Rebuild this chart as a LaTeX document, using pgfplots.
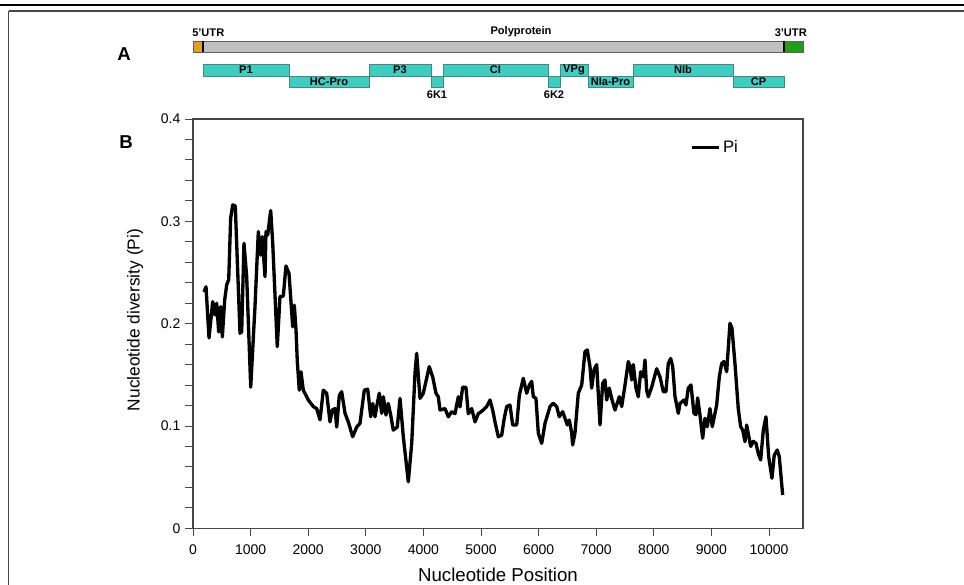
\documentclass[border=0pt]{standalone}
\usepackage{pgfplots}
\pgfplotsset{compat=1.18}
\usepackage{fontspec}
\setmainfont{Liberation Sans}

\definecolor{turq}{RGB}{61,205,193}
\definecolor{turqd}{RGB}{70,135,128}
\definecolor{barg}{RGB}{192,192,192}
\definecolor{bard}{RGB}{95,95,95}
\definecolor{utr5}{RGB}{226,160,30}
\definecolor{utr3}{RGB}{30,160,20}
\definecolor{axisgray}{RGB}{70,70,70}

\newcommand{\maplab}{\bfseries\fontsize{8.3}{9}\selectfont}
\newcommand{\panlab}{\bfseries\fontsize{14}{16}\selectfont}

\pgfplotstableread{
pos pi
191 0.231
226 0.236
278 0.186
342 0.2215
382 0.2085
411 0.220
446 0.192
481 0.2166
509 0.187
550 0.223
585 0.238
620 0.243
654 0.303
689 0.316
734 0.315
816 0.1906
845 0.192
885 0.2786
932 0.246
1002 0.138
1076 0.2166
1134 0.290
1175 0.267
1203 0.285
1250 0.246
1267 0.290
1297 0.2867
1349 0.3105
1384 0.2786
1463 0.1775
1510 0.2264
1568 0.227
1614 0.2564
1667 0.249
1731 0.197
1759 0.218
1788 0.194
1811 0.163
1845 0.135
1875 0.153
1915 0.135
2002 0.1254
2088 0.119
2147 0.117
2205 0.106
2262 0.135
2321 0.132
2378 0.104
2418 0.1156
2465 0.117
2495 0.099
2540 0.130
2581 0.1335
2639 0.1124
2696 0.104
2772 0.0895
2842 0.099
2899 0.1026
2974 0.135
3033 0.136
3085 0.109
3120 0.122
3160 0.109
3199 0.122
3234 0.132
3276 0.1124
3304 0.1286
3350 0.1107
3390 0.122
3432 0.1107
3477 0.096
3547 0.099
3594 0.127
3651 0.0895
3738 0.0455
3797 0.083
3854 0.1515
3883 0.171
3941 0.127
3998 0.132
4102 0.158
4161 0.148
4218 0.132
4259 0.1286
4288 0.1156
4375 0.117
4432 0.109
4491 0.114
4548 0.112
4606 0.1286
4635 0.1186
4682 0.138
4739 0.1377
4779 0.112
4838 0.117
4896 0.104
4953 0.112
5040 0.1156
5099 0.119
5156 0.1254
5203 0.1156
5243 0.104
5300 0.0895
5359 0.091
5399 0.106
5446 0.119
5503 0.1205
5550 0.101
5620 0.101
5665 0.130
5734 0.1466
5793 0.132
5839 0.140
5880 0.1436
5908 0.1286
5954 0.127
5995 0.093
6053 0.083
6111 0.1026
6198 0.119
6255 0.1222
6314 0.119
6359 0.109
6418 0.114
6458 0.1075
6498 0.101
6533 0.1058
6574 0.093
6592 0.0815
6631 0.093
6689 0.132
6748 0.140
6805 0.1726
6845 0.1743
6892 0.158
6921 0.137
6961 0.1547
7008 0.160
7066 0.101
7112 0.1417
7152 0.145
7182 0.1254
7227 0.137
7268 0.127
7326 0.1156
7401 0.1286
7442 0.119
7500 0.140
7557 0.163
7586 0.158
7616 0.145
7644 0.160
7690 0.137
7730 0.1286
7772 0.153
7817 0.148
7847 0.1645
7876 0.135
7904 0.1286
7963 0.138
8050 0.156
8107 0.148
8165 0.1335
8211 0.1335
8251 0.161
8293 0.166
8328 0.158
8368 0.1286
8425 0.1124
8454 0.122
8523 0.1254
8558 0.1205
8598 0.137
8645 0.1401
8697 0.1124
8732 0.111
8761 0.1275
8801 0.111
8848 0.088
8888 0.1075
8928 0.0993
8975 0.117
9015 0.0993
9062 0.1124
9091 0.1205
9137 0.148
9178 0.161
9218 0.163
9265 0.153
9322 0.2004
9357 0.1955
9409 0.161
9466 0.117
9508 0.0993
9543 0.096
9583 0.0847
9612 0.1009
9652 0.089
9681 0.080
9727 0.085
9774 0.0831
9814 0.073
9855 0.0668
9901 0.096
9947 0.109
9994 0.070
10051 0.0489
10091 0.0716
10143 0.0765
10178 0.070
10237 0.0326
}\pidata

\begin{document}
\begin{tikzpicture}[x=0.75pt,y=0.75pt]
\useasboundingbox (0,0) rectangle (964,585);

% outer frame
\draw[black, line width=1.1pt] (0,580) -- (964,580);
\draw[axisgray, line width=0.9pt] (8.5,574) -- (964,574);
\draw[axisgray, line width=0.9pt] (8.5,574) -- (8.5,0);

% panel A: genome map
\node[font=\panlab, anchor=west, inner sep=0] at (117,531) {A};
\node[font=\panlab, anchor=west, inner sep=0] at (119,443) {B};

\filldraw[fill=barg, draw=bard, line width=0.7pt] (193,544) rectangle (803,533);
\filldraw[fill=utr5, draw=bard, line width=0.7pt] (193,544) rectangle (203,533);
\filldraw[fill=utr3, draw=bard, line width=0.7pt] (784,544) rectangle (803,533);
\draw[black, line width=1pt] (203,544) -- (203,533);
\draw[black, line width=1pt] (784,544) -- (784,533);

\node[font=\maplab, anchor=south west, inner sep=0] at (192,548) {5'UTR};
\node[font=\maplab, anchor=south, inner sep=0] at (521,548) {Polyprotein};
\node[font=\maplab, anchor=south east, inner sep=0] at (807,548) {3'UTR};

% upper row
\foreach \a/\b/\lab in {203/289/P1, 369/431/P3, 443/548/CI, 560/588/VPg, 633/733/NIb}{
  \filldraw[fill=turq, draw=turqd, line width=0.7pt] (\a,521) rectangle (\b,509);
  \node[font=\maplab, inner sep=0] at ({(\a+\b)/2},515) {\lab};
}
% lower row
\foreach \a/\b/\lab in {289/369/HC-Pro, 431/443/{}, 548/560/{}, 588/633/NIa-Pro, 733/784/CP}{
  \filldraw[fill=turq, draw=turqd, line width=0.7pt] (\a,509) rectangle (\b,498);
  \node[font=\maplab, inner sep=0] at ({(\a+\b)/2},503.5) {\lab};
}
\node[font=\maplab, inner sep=0] at (437,490) {6K1};
\node[font=\maplab, inner sep=0] at (554,490) {6K2};

% panel B
\begin{axis}[
  at={(144.75pt,42.5pt)}, anchor=south west,
  scale only axis, width=457.5pt, height=307pt,
  xmin=0, xmax=10590, ymin=0, ymax=0.4,
  xtick={0,1000,...,10000},
  ytick={0,0.1,0.2,0.3,0.4},
  minor y tick num=4,
  scaled x ticks=false, scaled y ticks=false,
  xticklabel style={/pgf/number format/1000 sep={}, yshift=-3pt},
  yticklabel style={/pgf/number format/fixed, /pgf/number format/precision=1},
  /pgf/number format/assume math mode=true,
  tick label style={font=\fontsize{10.5}{12}\selectfont},
  xtick pos=bottom, ytick pos=left,
  tick align=outside,
  major tick length=6pt, minor tick length=6pt,
  tick style={axisgray, line width=0.7pt},
  axis line style={axisgray, line width=0.8pt},
  xlabel={Nucleotide Position},
  ylabel={Nucleotide diversity (Pi)},
  x label style={at={(axis description cs:0.5,-0.129)}, anchor=base, inner sep=0pt,
    font=\fontsize{14}{16}\selectfont},
  y label style={at={(axis description cs:-0.095,0.509)}, anchor=center,
    font=\fontsize{13}{15}\selectfont},
  legend style={draw=none, fill=none, at={(0.808,0.931)}, anchor=west,
    font=\fontsize{12.5}{14}\selectfont},
  legend image code/.code={\draw[line width=2.2pt] (0cm,0cm) -- (0.72cm,0cm);},
]
\addplot[black, line width=2.5pt, line join=round] table[x=pos, y=pi] {\pidata};
\addlegendentry{Pi}
\end{axis}
\end{tikzpicture}
\end{document}
